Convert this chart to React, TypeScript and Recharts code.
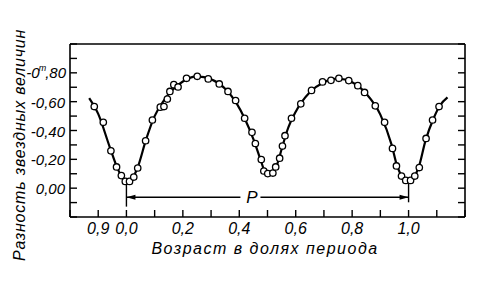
import React from 'react';
import { ComposedChart, Line, Scatter, XAxis, YAxis, ReferenceLine, ReferenceDot } from 'recharts';

// Observed points: phase (fraction of period) and magnitude difference
const obsPhase = [
  -0.114, -0.082, -0.055, -0.035, -0.018, -0.004, 0.011, 0.026, 0.04, 0.068,
  0.092, 0.12, 0.133, 0.145, 0.154, 0.168, 0.183, 0.213, 0.251, 0.29,
  0.329, 0.36, 0.387, 0.419, 0.445, 0.457, 0.478, 0.487, 0.501, 0.519,
  0.529, 0.543, 0.553, 0.562, 0.585, 0.618, 0.656, 0.695, 0.725, 0.753,
  0.788, 0.82, 0.844, 0.882, 0.915, 0.943, 0.957, 0.975, 0.99, 1.007,
  1.022, 1.038, 1.062, 1.085, 1.108,
];
const obsMag = [
  -0.566, -0.457, -0.259, -0.147, -0.087, -0.047, -0.047, -0.077, -0.14, -0.329,
  -0.473, -0.562, -0.566, -0.618, -0.671, -0.718, -0.702, -0.762, -0.776, -0.758,
  -0.723, -0.671, -0.608, -0.485, -0.387, -0.31, -0.199, -0.119, -0.101, -0.105,
  -0.147, -0.208, -0.292, -0.364, -0.485, -0.585, -0.678, -0.737, -0.748, -0.762,
  -0.746, -0.711, -0.664, -0.571, -0.457, -0.276, -0.154, -0.084, -0.054, -0.054,
  -0.084, -0.143, -0.345, -0.473, -0.566,
];

// Smooth mean light curve
const curvePhase = [
  -0.132, -0.1, -0.06, -0.03, -0.01, 0.005, 0.02, 0.04, 0.07, 0.1,
  0.13, 0.16, 0.2, 0.25, 0.3, 0.35, 0.39, 0.42, 0.45, 0.475,
  0.49, 0.505, 0.52, 0.535, 0.55, 0.57, 0.6, 0.65, 0.7, 0.75,
  0.8, 0.85, 0.9, 0.94, 0.96, 0.98, 0.998, 1.015, 1.035, 1.06,
  1.09, 1.11, 1.138,
];
const curveMag = [
  -0.625, -0.515, -0.29, -0.13, -0.06, -0.045, -0.065, -0.145, -0.34, -0.5,
  -0.6, -0.675, -0.74, -0.775, -0.755, -0.69, -0.59, -0.48, -0.34, -0.2,
  -0.12, -0.1, -0.11, -0.17, -0.27, -0.4, -0.53, -0.665, -0.735, -0.76,
  -0.735, -0.655, -0.51, -0.3, -0.15, -0.075, -0.054, -0.07, -0.14, -0.33,
  -0.49, -0.57, -0.63,
];

const xTicks = [-0.2, -0.1, 0, 0.1, 0.2, 0.3, 0.4, 0.5, 0.6, 0.7, 0.8, 0.9, 1.0, 1.1, 1.2];
const xLabelValues = [-0.1, 0, 0.2, 0.4, 0.6, 0.8, 1.0];
const xLabelTexts = ['0,9', '0,0', '0,2', '0,4', '0,6', '0,8', '1,0'];

const yTicks = [-1.0, -0.9, -0.8, -0.7, -0.6, -0.5, -0.4, -0.3, -0.2, -0.1, 0, 0.1, 0.2];
const yLabelValues = [-0.8, -0.6, -0.4, -0.2, 0];
const yLabelTexts = ['-0,80', '-0,60', '-0,40', '-0,20', '0,00'];

// Period annotation (phase 0 to 1)
const periodStart = 0;
const periodEnd = 1.0;
const periodLevel = 0.063;
const periodGapStart = 0.404;
const periodGapEnd = 0.475;
const periodLabelPhase = 0.445;
const markerStartSpan = [-0.035, 0.128];
const markerEndSpan = [-0.054, 0.098];

const obsData = obsPhase.map((x, i) => ({ x, y: obsMag[i] }));
const curveData = curvePhase.map((x, i) => ({ x, y: curveMag[i] }));

const FONT = '"Liberation Sans", Arial, sans-serif';

const findLabel = (v: number, vals: number[], texts: string[]) => {
  const i = vals.findIndex((t) => Math.abs(t - v) < 1e-6);
  return i >= 0 ? texts[i] : null;
};

const BottomTick = (props: any) => {
  const { x, y, payload } = props;
  const label = findLabel(payload.value, xLabelValues, xLabelTexts);
  return (
    <g>
      <line x1={x} y1={y} x2={x} y2={y - 7} stroke="#000" strokeWidth={1.4} />
      {label && (
        <text x={x} y={y + 17} textAnchor="middle" fontFamily={FONT} fontStyle="italic" fontSize={16} fill="#000">
          {label}
        </text>
      )}
    </g>
  );
};

const TopTick = (props: any) => {
  const { x, y } = props;
  return <line x1={x} y1={y} x2={x} y2={y + 7} stroke="#000" strokeWidth={1.4} />;
};

const LeftTick = (props: any) => {
  const { x, y, payload } = props;
  const label = findLabel(payload.value, yLabelValues, yLabelTexts);
  const isTop = Math.abs(payload.value + 0.8) < 1e-6;
  return (
    <g>
      <line x1={x} y1={y} x2={x + 7} y2={y} stroke="#000" strokeWidth={1.4} />
      {label && !isTop && (
        <text x={x - 5} y={y + 6} textAnchor="end" fontFamily={FONT} fontStyle="italic" fontSize={15} fill="#000">
          {label}
        </text>
      )}
      {label && isTop && (
        <text x={x - 4} y={y + 5} textAnchor="end" fontFamily={FONT} fontStyle="italic" fontSize={15} fill="#000">
          <tspan>-0</tspan>
          <tspan dx={-1} dy={-7} fontSize={9}>m</tspan>
          <tspan dx={-1} dy={7}>,80</tspan>
        </text>
      )}
    </g>
  );
};

const RightTick = (props: any) => {
  const { x, y } = props;
  return <line x1={x} y1={y} x2={x - 7} y2={y} stroke="#000" strokeWidth={1.4} />;
};

const arrowShape = (atEnd: boolean) => (props: any) => {
  const { x1, y1, x2, y2 } = props;
  const tipX = atEnd ? x2 : x1;
  const tipY = atEnd ? y2 : y1;
  const d = atEnd ? -1 : 1;
  return (
    <g>
      <line x1={x1} y1={y1} x2={x2} y2={y2} stroke="#000" strokeWidth={1.5} />
      <polygon
        points={`${tipX},${tipY} ${tipX + d * 9},${tipY - 2.5} ${tipX + d * 9},${tipY + 2.5}`}
        fill="#000"
      />
    </g>
  );
};

const Dot = (p: any) => <circle cx={p.cx} cy={p.cy} r={3.2} fill="#fff" stroke="#000" strokeWidth={1.3} />;

export default function App() {
  return (
    <div style={{ position: 'absolute', left: 0, top: 0, width: 492, height: 284, background: '#fff' }}>
      <ComposedChart width={492} height={284} margin={{ top: 24, right: 0, bottom: 37, left: 10 }}>
        <XAxis
          xAxisId="bottom"
          dataKey="x"
          type="number"
          domain={[-0.2, 1.2]}
          ticks={xTicks}
          interval={0}
          height={30}
          tickSize={0}
          tickMargin={0}
          tickLine={false}
          axisLine={{ stroke: '#000', strokeWidth: 1.6 }}
          tick={<BottomTick />}
          allowDataOverflow
          label={{
            content: () => (
              <text
                x={265}
                y={254}
                textAnchor="middle"
                fontFamily={FONT}
                fontStyle="italic"
                fontSize={16}
                letterSpacing={1.5}
                fill="#000"
              >
                Возраст в долях периода
              </text>
            ),
          }}
        />
        <XAxis
          xAxisId="top"
          orientation="top"
          type="number"
          domain={[-0.2, 1.2]}
          ticks={xTicks}
          interval={0}
          height={20}
          tickSize={0}
          tickMargin={0}
          tickLine={false}
          axisLine={{ stroke: '#000', strokeWidth: 1.6 }}
          tick={<TopTick />}
          allowDataOverflow
        />
        <YAxis
          yAxisId="left"
          dataKey="y"
          type="number"
          domain={[-1.0, 0.2]}
          reversed
          ticks={yTicks}
          interval={0}
          width={60}
          tickSize={0}
          tickMargin={0}
          tickLine={false}
          axisLine={{ stroke: '#000', strokeWidth: 1.6 }}
          tick={<LeftTick />}
          allowDataOverflow
          label={{
            content: () => (
              <text
                x={19}
                y={145}
                transform="rotate(-90 19 145)"
                textAnchor="middle"
                dominantBaseline="central"
                fontFamily={FONT}
                fontStyle="italic"
                fontSize={16}
                letterSpacing={0.8}
                fill="#000"
              >
                Разность звездных величин
              </text>
            ),
          }}
        />
        <YAxis
          yAxisId="right"
          orientation="right"
          type="number"
          domain={[-1.0, 0.2]}
          reversed
          ticks={yTicks}
          interval={0}
          width={27}
          tickSize={0}
          tickMargin={0}
          tickLine={false}
          axisLine={{ stroke: '#000', strokeWidth: 1.6 }}
          tick={<RightTick />}
          allowDataOverflow
        />
        <Line
          xAxisId="bottom"
          yAxisId="left"
          data={curveData}
          dataKey="y"
          type="monotone"
          stroke="#000"
          strokeWidth={2.2}
          dot={false}
          activeDot={false}
          isAnimationActive={false}
        />
        <Scatter
          xAxisId="bottom"
          yAxisId="left"
          data={obsData}
          dataKey="y"
          shape={<Dot />}
          isAnimationActive={false}
        />
        <ReferenceLine
          xAxisId="bottom"
          yAxisId="left"
          segment={[{ x: periodStart, y: markerStartSpan[0] }, { x: periodStart, y: markerStartSpan[1] }]}
          stroke="#000"
          strokeWidth={1.4}
        />
        <ReferenceLine
          xAxisId="bottom"
          yAxisId="left"
          segment={[{ x: periodEnd, y: markerEndSpan[0] }, { x: periodEnd, y: markerEndSpan[1] }]}
          stroke="#000"
          strokeWidth={1.4}
        />
        <ReferenceLine
          xAxisId="bottom"
          yAxisId="left"
          segment={[{ x: periodStart, y: periodLevel }, { x: periodGapStart, y: periodLevel }]}
          shape={arrowShape(false)}
        />
        <ReferenceLine
          xAxisId="bottom"
          yAxisId="left"
          segment={[{ x: periodGapEnd, y: periodLevel }, { x: periodEnd, y: periodLevel }]}
          shape={arrowShape(true)}
        />
        <ReferenceDot
          xAxisId="bottom"
          yAxisId="left"
          x={periodLabelPhase}
          y={periodLevel}
          r={0}
          fill="none"
          stroke="none"
          label={{
            content: (p: any) => {
              const vb = p.viewBox || {};
              const cx = (vb.x || 0) + (vb.width || 0) / 2;
              const cy = (vb.y || 0) + (vb.height || 0) / 2;
              return (
                <text x={cx} y={cy + 6} textAnchor="middle" fontFamily={FONT} fontStyle="italic" fontSize={17} fill="#000">
                  P
                </text>
              );
            },
          }}
        />
      </ComposedChart>
    </div>
  );
}
